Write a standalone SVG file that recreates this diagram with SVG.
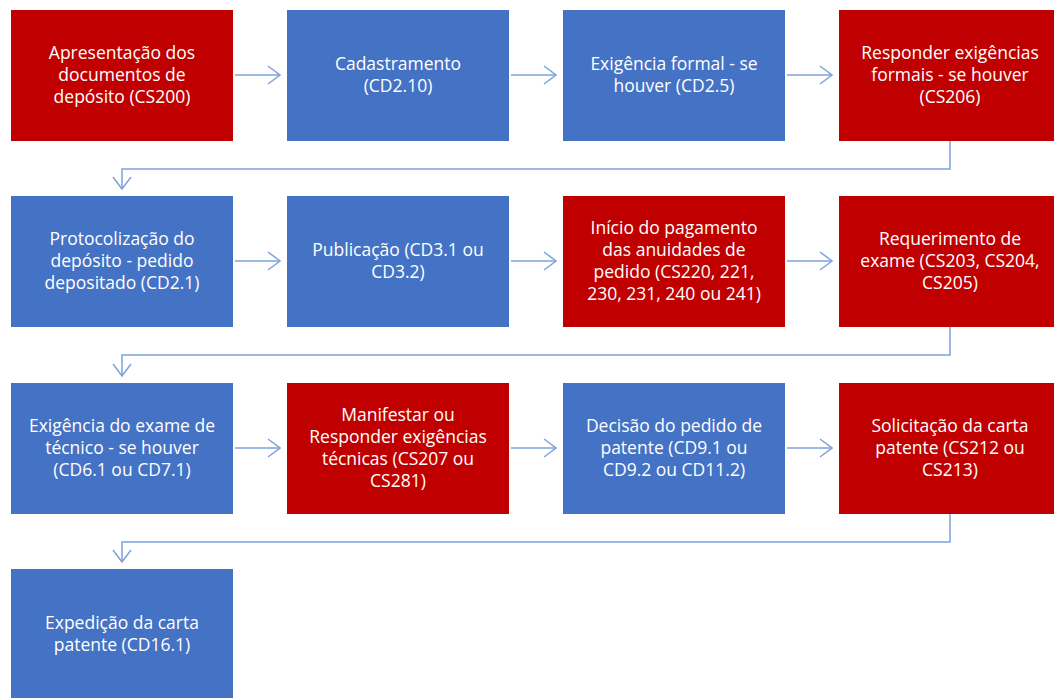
<svg xmlns="http://www.w3.org/2000/svg" width="1054" height="698" viewBox="0 0 1054 698">
<style>
.r{fill:#C00000}
.b{fill:#4472C4}
text{font-family:"Open Sans","Liberation Sans",sans-serif;font-size:17.5px;fill:#FFFFFF;text-anchor:middle}
.c{fill:none;stroke:#7FA1DB;stroke-width:1.5}
</style>
<defs>
<marker id="a" viewBox="0 0 14 20" refX="13" refY="10" markerWidth="14" markerHeight="20" markerUnits="userSpaceOnUse" orient="auto">
<path d="M1 1 L13 10 L1 19" fill="none" stroke="#7FA1DB" stroke-width="1.5"/>
</marker>
</defs>
<rect width="1054" height="698" fill="#FFFFFF"/>
<g id="n1"><rect class="r" x="11" y="10" width="222" height="131"/><text x="122" y="59">Apresentação dos</text><text x="122" y="81">documentos de</text><text x="122" y="103">depósito (CS200)</text></g>
<g id="n2"><rect class="b" x="287" y="10" width="222" height="131"/><text x="398" y="70">Cadastramento</text><text x="398" y="92">(CD2.10)</text></g>
<g id="n3"><rect class="b" x="563" y="10" width="222" height="131"/><text x="674" y="70">Exigência formal - se</text><text x="674" y="92">houver (CD2.5)</text></g>
<g id="n4"><rect class="r" x="839" y="10" width="222" height="131"/><text x="950" y="59">Responder exigências</text><text x="950" y="81">formais - se houver</text><text x="950" y="103">(CS206)</text></g>
<g id="n5"><rect class="b" x="11" y="196" width="222" height="131"/><text x="122" y="245">Protocolização do</text><text x="122" y="267">depósito - pedido</text><text x="122" y="289">depositado (CD2.1)</text></g>
<g id="n6"><rect class="b" x="287" y="196" width="222" height="131"/><text x="398" y="256">Publicação (CD3.1 ou</text><text x="398" y="278">CD3.2)</text></g>
<g id="n7"><rect class="r" x="563" y="196" width="222" height="131"/><text x="674" y="234">Início do pagamento</text><text x="674" y="256">das anuidades de</text><text x="674" y="278">pedido (CS220, 221,</text><text x="674" y="300">230, 231, 240 ou 241)</text></g>
<g id="n8"><rect class="r" x="839" y="196" width="222" height="131"/><text x="950" y="245">Requerimento de</text><text x="950" y="267">exame (CS203, CS204,</text><text x="950" y="289">CS205)</text></g>
<g id="n9"><rect class="b" x="11" y="383" width="222" height="131"/><text x="122" y="432">Exigência do exame de</text><text x="122" y="454">técnico - se houver</text><text x="122" y="476">(CD6.1 ou CD7.1)</text></g>
<g id="n10"><rect class="r" x="287" y="383" width="222" height="131"/><text x="398" y="421">Manifestar ou</text><text x="398" y="443">Responder exigências</text><text x="398" y="465">técnicas (CS207 ou</text><text x="398" y="487">CS281)</text></g>
<g id="n11"><rect class="b" x="563" y="383" width="222" height="131"/><text x="674" y="432">Decisão do pedido de</text><text x="674" y="454">patente (CD9.1 ou</text><text x="674" y="476">CD9.2 ou CD11.2)</text></g>
<g id="n12"><rect class="r" x="839" y="383" width="222" height="131"/><text x="950" y="432">Solicitação da carta</text><text x="950" y="454">patente (CS212 ou</text><text x="950" y="476">CS213)</text></g>
<g id="n13"><rect class="b" x="11" y="569" width="222" height="131"/><text x="122" y="629">Expedição da carta</text><text x="122" y="651">patente (CD16.1)</text></g>
<g id="connectors">
<path class="c" d="M235 75 H280" marker-end="url(#a)"/>
<path class="c" d="M511 75 H556" marker-end="url(#a)"/>
<path class="c" d="M787 75 H832" marker-end="url(#a)"/>
<path class="c" d="M950 141 V169 H122 V189" marker-end="url(#a)"/>
<path class="c" d="M235 261 H280" marker-end="url(#a)"/>
<path class="c" d="M511 261 H556" marker-end="url(#a)"/>
<path class="c" d="M787 261 H832" marker-end="url(#a)"/>
<path class="c" d="M950 327 V355 H122 V376" marker-end="url(#a)"/>
<path class="c" d="M235 448 H280" marker-end="url(#a)"/>
<path class="c" d="M511 448 H556" marker-end="url(#a)"/>
<path class="c" d="M787 448 H832" marker-end="url(#a)"/>
<path class="c" d="M950 514 V542 H122 V562" marker-end="url(#a)"/>
</g>
</svg>
